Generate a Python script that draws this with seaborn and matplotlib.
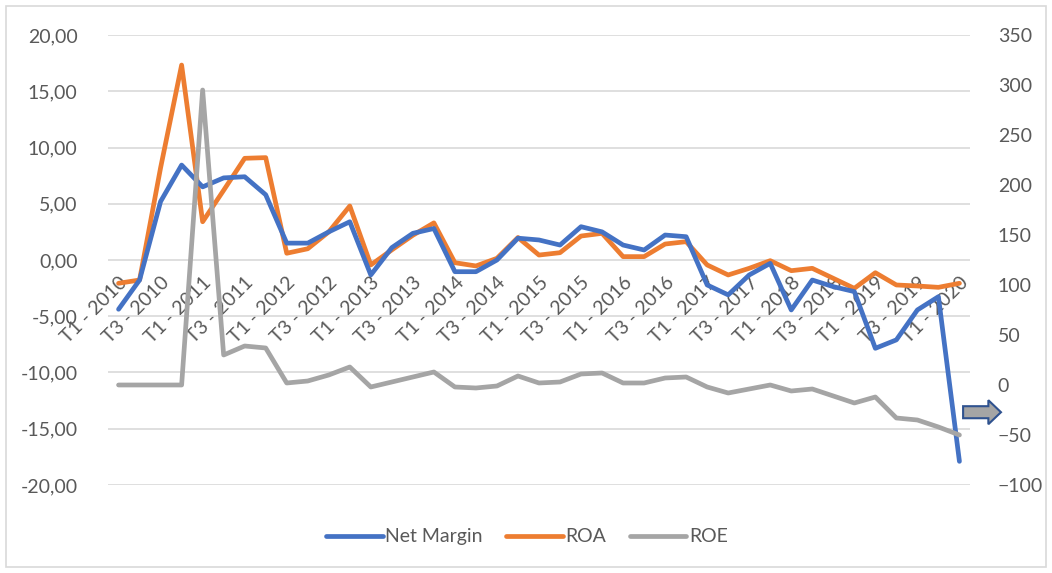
import numpy as np
import pandas as pd
import matplotlib
matplotlib.use("Agg")
import matplotlib.pyplot as plt
from matplotlib.patches import FancyArrow, Rectangle
from matplotlib.lines import Line2D
import seaborn as sns

# --- datos (trimestres T1 2010 - T1 2020) ---
anios = list(range(2010, 2021))
trimestres = [f"T{q} - {a}" for a in anios for q in (1, 2, 3, 4)][:41]

net_margin = [-4.38, -1.78, 5.2, 8.44, 6.5, 7.3, 7.4, 5.8, 1.5, 1.5,
              2.5, 3.4, -1.33, 1.1, 2.37, 2.8, -1.04, -1.04, 0.0, 1.94,
              1.78, 1.33, 2.96, 2.5, 1.33, 0.89, 2.22, 2.07, -2.22, -3.1,
              -1.33, -0.3, -4.44, -1.78, -2.37, -2.81, -7.85, -7.1, -4.44, -3.26,
              -17.9]
roa = [-2.07, -1.78, 8.2, 17.33, 3.4, 6.2, 9.04, 9.1, 0.6, 1.0,
       2.5, 4.8, -0.44, 0.9, 2.2, 3.3, -0.24, -0.53, 0.15, 2.0,
       0.44, 0.65, 2.13, 2.37, 0.3, 0.3, 1.42, 1.63, -0.44, -1.33,
       -0.74, -0.06, -0.95, -0.74, -1.63, -2.52, -1.13, -2.22, -2.31, -2.43,
       -2.07]
roe = [0, 0, 0, 0, 295, 30, 39, 37, 2, 4,
       10, 18, -2, 3, 8, 13, -2, -3, -1, 9,
       2, 3, 11, 12, 2, 2, 7, 8, -2, -8,
       -4, 0, -6, -4, -11, -18, -12, -33, -35, -42,
       -50]

ticks_izq = [20, 15, 10, 5, 0, -5, -10, -15, -20]
ticks_der = [350, 300, 250, 200, 150, 100, 50, 0, -50, -100]

df = pd.DataFrame({"pos": np.arange(len(trimestres)), "trimestre": trimestres,
                   "Net Margin": net_margin, "ROA": roa, "ROE": roe})

azul, naranja, gris = "#4472C4", "#ED7D31", "#A5A5A5"
texto = "#595959"

sns.set_style("white")
plt.rcParams["font.family"] = ["Lato", "DejaVu Sans"]

fig = plt.figure(figsize=(10.52, 5.73), dpi=100)
ax = fig.add_axes([0.1027, 0.1536, 0.8193, 0.7853])
ax2 = ax.twinx()

sns.lineplot(data=df, x="pos", y="Net Margin", ax=ax, color=azul, linewidth=3.4, zorder=3)
sns.lineplot(data=df, x="pos", y="ROA", ax=ax, color=naranja, linewidth=3.4, zorder=2)
sns.lineplot(data=df, x="pos", y="ROE", ax=ax2, color=gris, linewidth=3.4)

# eje derecho
ax2.set_ylim(-100, 350)
ax2.set_yticks(ticks_der)
ax2.set_ylabel("")
ax2.tick_params(axis="y", length=0, colors=texto, labelsize=14, pad=20)

# eje izquierdo
ax.set_ylim(-20, 20)
ax.set_xlim(-0.5, len(trimestres) - 0.5)
ax.spines["bottom"].set_position(("data", 0))
ax.grid(axis="y", color="#D9D9D9", linewidth=1.2)
ax.set_axisbelow(True)
ax.set_xlabel("")
ax.set_ylabel("")
ax.tick_params(axis="both", length=0, colors=texto, labelsize=14)
ax.tick_params(axis="x", pad=10, labelrotation=45)
ax.tick_params(axis="y", pad=22)
ax.set_yticks(ticks_izq)
ax.set_yticklabels([f"{v:.2f}".replace(".", ",") for v in ticks_izq])
ax.set_xticks(df["pos"][::2])
ax.set_xticklabels(df["trimestre"][::2])
plt.setp(ax.get_xticklabels(), rotation=45, ha="right", rotation_mode="anchor")

for a in (ax, ax2):
    for s in a.spines.values():
        s.set_visible(False)

# leyenda
handles = [Line2D([], [], color=c, linewidth=3.4, solid_capstyle="round")
           for c in (azul, naranja, gris)]
fig.legend(handles, ["Net Margin", "ROA", "ROE"], loc="center",
           bbox_to_anchor=(0.501, 0.063), ncol=3, frameon=False,
           fontsize=14, labelcolor=texto, handlelength=2.9,
           handletextpad=0.15, columnspacing=1.2)

# flecha decorativa
fig.add_artist(FancyArrow(0.9155, 0.2806, 0.036, 0, width=0.021,
                          head_width=0.042, head_length=0.012,
                          length_includes_head=True, transform=fig.transFigure,
                          facecolor=gris, edgecolor="#2F528F", linewidth=1.5))

# borde de la figura
fig.add_artist(Rectangle((0.006, 0.01), 0.988, 0.98, transform=fig.transFigure,
                         fill=False, edgecolor="#D9D9D9", linewidth=1.2))

fig.savefig("out.png", dpi=100)
